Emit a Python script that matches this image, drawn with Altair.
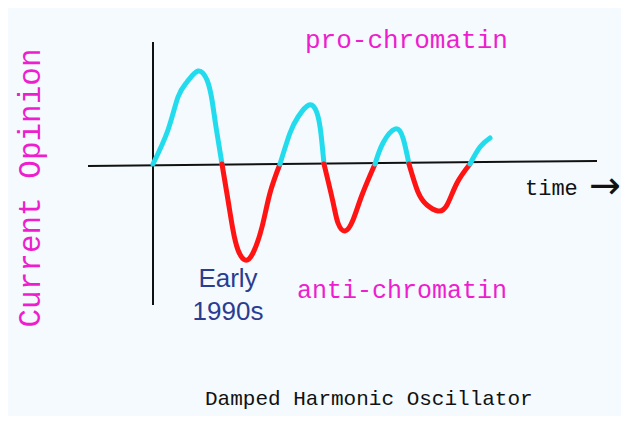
import altair as alt
import pandas as pd

# Curve segments (time, opinion)
seg_t = [
    [0.0, 1.5, 2.5, 3.4, 4.5, 5.4, 5.9, 6.3, 6.9],
    [6.9, 7.5, 8.0, 8.5, 9.2, 10.0, 10.9, 11.7, 12.7],
    [12.7, 13.7, 14.5, 15.6, 16.4, 16.8, 17.1],
    [17.1, 18.0, 18.5, 19.2, 20.0, 20.9, 22.2],
    [22.2, 23.0, 24.2, 25.0, 25.6],
    [25.6, 26.5, 27.4, 28.5, 29.4, 30.4, 31.7],
    [31.7, 32.7, 33.7],
]
seg_v = [
    [0.0, 3.4, 6.7, 8.2, 9.3, 8.4, 6.4, 3.7, 0.0],
    [0.0, -3.6, -6.6, -8.6, -9.6, -8.9, -6.3, -2.9, 0.0],
    [0.0, 3.1, 4.7, 5.9, 5.1, 3.0, 0.0],
    [0.0, -3.8, -5.9, -6.7, -5.6, -3.1, 0.0],
    [0.0, 2.1, 3.5, 2.6, 0.0],
    [0.0, -2.8, -4.1, -4.7, -4.1, -1.9, 0.0],
    [0.0, 1.7, 2.6],
]
seg_sign = ["pro", "anti", "pro", "anti", "pro", "anti", "pro"]

rows = []
for i, (ts, vs) in enumerate(zip(seg_t, seg_v)):
    for k, (t, v) in enumerate(zip(ts, vs)):
        rows.append({"seg": i, "order": k, "t": t, "v": v, "sign": seg_sign[i]})
curve = pd.DataFrame(rows)

# Axis extents
axes_df = pd.DataFrame({
    "t": [-6.5, 0.0], "t2": [44.4, 0.0],
    "v": [-0.2, 12.2], "v2": [0.3, -14.1],
})

XDOM = [-14.5, 46.8]
YDOM = [-25.2, 15.6]
xs = alt.Scale(domain=XDOM, nice=False, zero=False)
ys = alt.Scale(domain=YDOM, nice=False, zero=False)
X = alt.X("t:Q", scale=xs, axis=None)
Y = alt.Y("v:Q", scale=ys, axis=None)

axis_rules = alt.Chart(axes_df).mark_rule(color="#111111", strokeWidth=2).encode(
    x=X, x2="t2:Q", y=Y, y2="v2:Q"
)

lines = alt.Chart(curve).mark_line(
    strokeWidth=5, strokeCap="round", strokeJoin="round", interpolate="natural"
).encode(
    x=X, y=Y, detail="seg:N", order="order:Q",
    color=alt.Color("sign:N", scale=alt.Scale(domain=["pro", "anti"],
                                              range=["#22dcee", "#ff1414"]), legend=None),
)

HAND = "Liberation Mono"
MAG = "#ee1ecf"

def label(text, t, v, size, color, font=HAND, align="left", angle=0, line_height=None,
          baseline="alphabetic"):
    df = pd.DataFrame({"t": [t], "v": [v], "txt": [text]})
    kw = dict(font=font, fontSize=size, color=color, align=align, baseline=baseline)
    if angle:
        kw["angle"] = angle
    if line_height:
        kw["lineHeight"] = line_height
        kw["lineBreak"] = "\n"
    return alt.Chart(df).mark_text(**kw).encode(x=X, y=Y, text="txt:N")

texts = [
    label("pro-chromatin", 15.2, 11.6, 26, MAG),
    label("anti-chromatin", 14.4, -13.4, 25, MAG),
    label("Current Opinion", -11.3, -2.4, 31, MAG, align="center", angle=270),
    label("time", 37.2, -3.1, 22, "#111111"),
    label("→", 43.6, -2.3, 38, "#111111", font="DejaVu Sans", baseline="middle"),
    label("Damped Harmonic Oscillator", 5.2, -24.1, 21, "#111111"),
    label("Early\n1990s", 7.5, -12.3, 26, "#2a3d91", font="Liberation Sans",
          align="center", line_height=33),
]

chart = alt.layer(axis_rules, lines, *texts).properties(
    width=613, height=408, background="#f4fafd", padding=0,
    autosize=alt.AutoSizeParams(type="none"),
).configure_view(stroke=None)

chart.save("out.html", embed_options={"renderer": "svg", "actions": False})
